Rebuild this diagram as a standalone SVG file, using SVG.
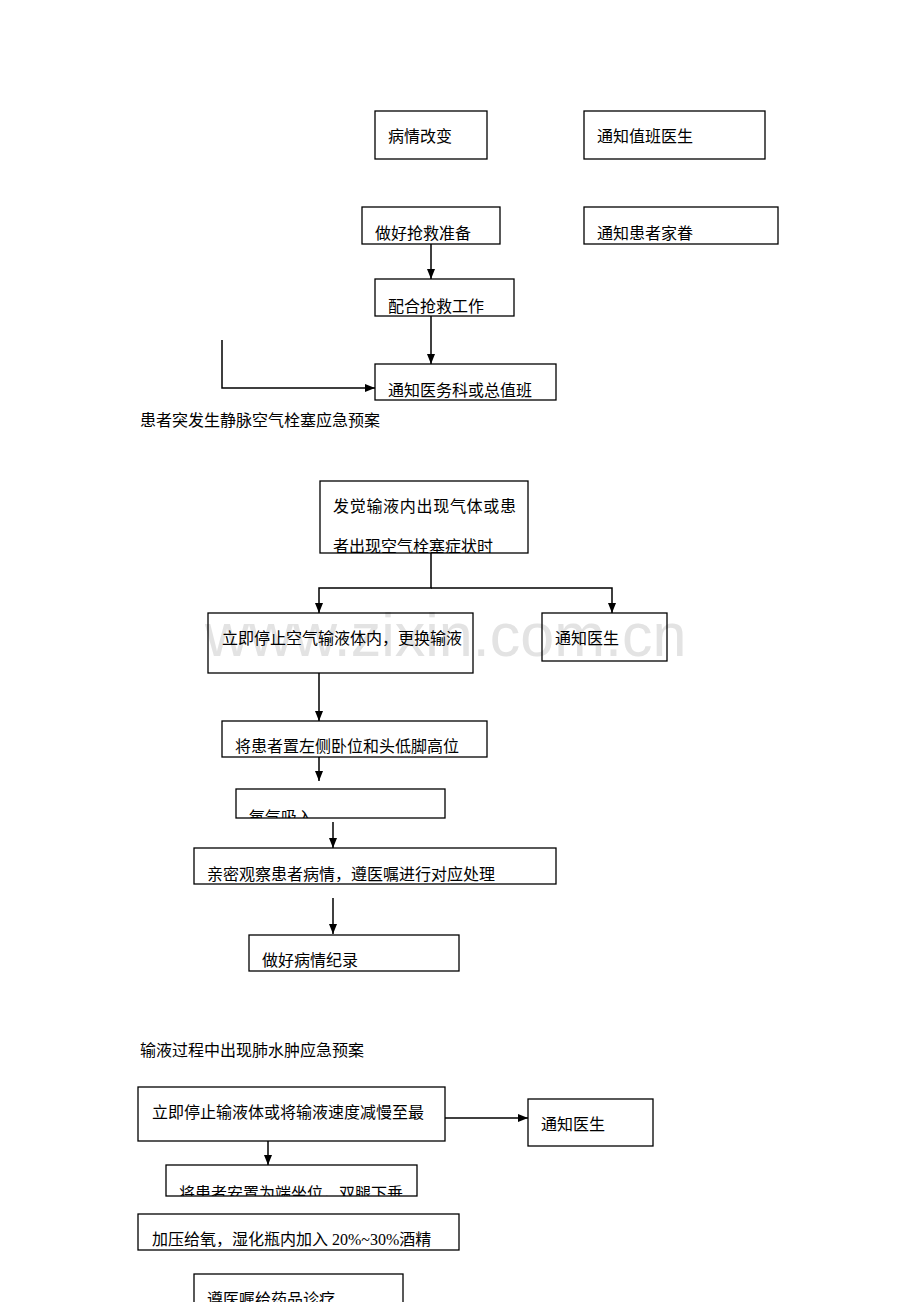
<svg xmlns="http://www.w3.org/2000/svg" width="920" height="1302" viewBox="0 0 920 1302">
<style>
.box{fill:none;stroke:#000;stroke-width:1.3}
.t{font-family:"Liberation Serif","Noto Sans CJK SC",serif;font-size:16px;fill:#000}
.c{fill:none;stroke:#000;stroke-width:1.5}
.wm{font-family:"Liberation Sans",Arial,sans-serif;font-size:61px;fill:#e3e3e3}
</style>
<defs>
<marker id="ah" viewBox="0 0 10 8" refX="10" refY="4" markerWidth="10" markerHeight="8" markerUnits="userSpaceOnUse" orient="auto">
<path d="M0,0 L10,4 L0,8 z" fill="#000"/>
</marker>
<clipPath id="c7"><rect x="320" y="481" width="208" height="72"/></clipPath>
<clipPath id="c5"><rect x="375" y="279" width="139" height="37"/></clipPath>
<clipPath id="c11"><rect x="236" y="789" width="209" height="29"/></clipPath>
<clipPath id="c16"><rect x="166" y="1165" width="251" height="31"/></clipPath>
</defs>
<rect width="920" height="1302" fill="#fff"/>
<text class="wm" x="205" y="656">www.zixin.com.cn</text>

<g id="n1"><rect class="box" x="375" y="111" width="112" height="48"/><text class="t" x="388" y="142">病情改变</text></g>
<g id="n2"><rect class="box" x="584" y="111" width="181" height="48"/><text class="t" x="597" y="142">通知值班医生</text></g>
<g id="n3"><rect class="box" x="362" y="207" width="138" height="37"/><text class="t" x="375" y="239">做好抢救准备</text></g>
<g id="n4"><rect class="box" x="584" y="207" width="194" height="37"/><text class="t" x="597" y="239">通知患者家眷</text></g>
<g id="n5"><rect class="box" x="375" y="279" width="139" height="37"/><text class="t" x="388" y="312" clip-path="url(#c5)">配合抢救工作</text></g>
<g id="n6"><rect class="box" x="375" y="364" width="181" height="36"/><text class="t" x="388" y="396">通知医务科或总值班</text></g>

<g id="title1"><text class="t" x="140" y="426">患者突发生静脉空气栓塞应急预案</text></g>

<g id="n7"><rect class="box" x="320" y="481" width="208" height="72"/><text class="t" x="333" y="512" letter-spacing="0.7">发觉输液内出现气体或患</text><text class="t" x="333" y="552" clip-path="url(#c7)">者出现空气栓塞症状时</text></g>
<g id="n8"><rect class="box" x="208" y="613" width="265" height="60"/><text class="t" x="222" y="644">立即停止空气输液体内，更换输液</text></g>
<g id="n9"><rect class="box" x="542" y="613" width="125" height="48"/><text class="t" x="555" y="644">通知医生</text></g>
<g id="n10"><rect class="box" x="222" y="721" width="265" height="36"/><text class="t" x="235" y="752">将患者置左侧卧位和头低脚高位</text></g>
<g id="n11"><rect class="box" x="236" y="789" width="209" height="29"/><text class="t" x="249" y="823" clip-path="url(#c11)">氧气吸入</text></g>
<g id="n12"><rect class="box" x="194" y="848" width="362" height="36"/><text class="t" x="207" y="880">亲密观察患者病情，遵医嘱进行对应处理</text></g>
<g id="n13"><rect class="box" x="249" y="935" width="210" height="36"/><text class="t" x="262" y="966">做好病情纪录</text></g>

<g id="title2"><text class="t" x="140" y="1056">输液过程中出现肺水肿应急预案</text></g>

<g id="n14"><rect class="box" x="138" y="1087" width="307" height="54"/><text class="t" x="152" y="1118">立即停止输液体或将输液速度减慢至最</text></g>
<g id="n15"><rect class="box" x="528" y="1099" width="125" height="47"/><text class="t" x="541" y="1130">通知医生</text></g>
<g id="n16"><rect class="box" x="166" y="1165" width="251" height="31"/><text class="t" x="179" y="1199" clip-path="url(#c16)">将患者安置为端坐位，双腿下垂</text></g>
<g id="n17"><rect class="box" x="138" y="1214" width="321" height="36"/><text class="t" x="152" y="1245">加压给氧，湿化瓶内加入 20%~30%酒精</text></g>
<g id="n18"><rect class="box" x="194" y="1274" width="209" height="40"/><text class="t" x="207" y="1305">遵医嘱给药品诊疗</text></g>

<g id="connectors">
<line class="c" x1="431" y1="244" x2="431" y2="279" marker-end="url(#ah)"/>
<line class="c" x1="431" y1="316" x2="431" y2="364" marker-end="url(#ah)"/>
<polyline class="c" points="222,340 222,388 375,388" marker-end="url(#ah)"/>
<polyline class="c" points="431,553 431,588 319,588 319,613" marker-end="url(#ah)"/>
<polyline class="c" points="431,588 612,588 612,613" marker-end="url(#ah)"/>
<line class="c" x1="319" y1="673" x2="319" y2="721" marker-end="url(#ah)"/>
<line class="c" x1="319" y1="757" x2="319" y2="781" marker-end="url(#ah)"/>
<line class="c" x1="333" y1="822" x2="333" y2="848" marker-end="url(#ah)"/>
<line class="c" x1="333" y1="898" x2="333" y2="934" marker-end="url(#ah)"/>
<line class="c" x1="445" y1="1118" x2="528" y2="1118" marker-end="url(#ah)"/>
<line class="c" x1="268" y1="1141" x2="268" y2="1165" marker-end="url(#ah)"/>
</g>
</svg>
